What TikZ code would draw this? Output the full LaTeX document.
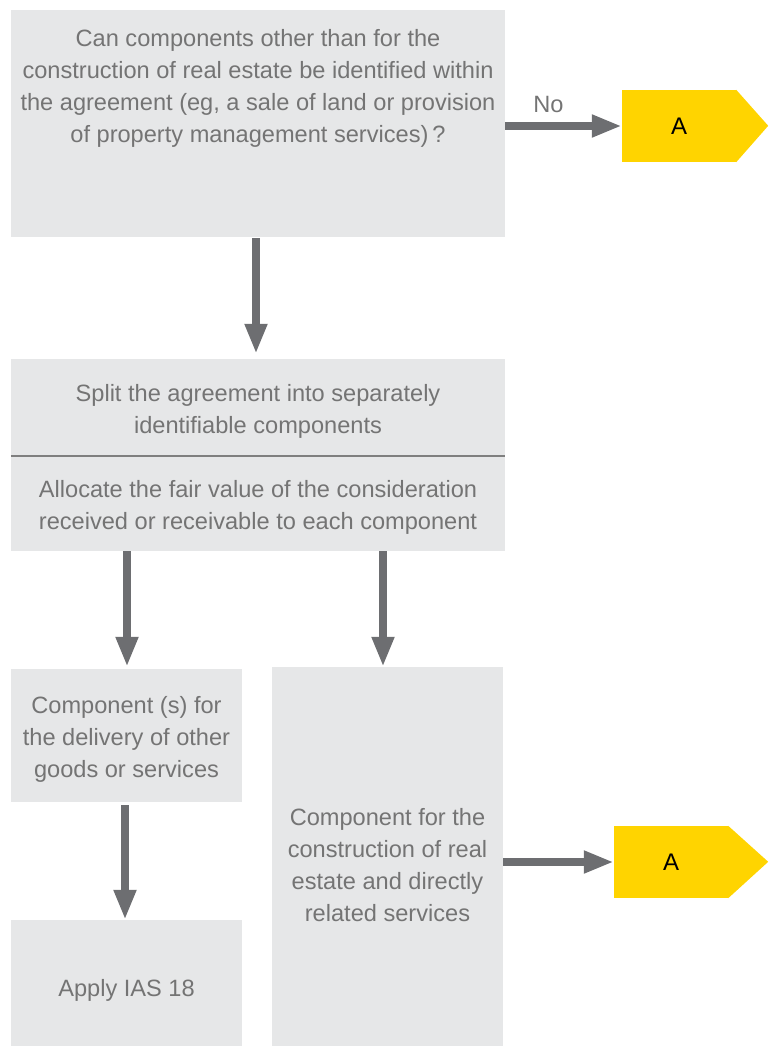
\documentclass[tikz,border=0pt]{standalone}
\usepackage{fontspec}
\setmainfont{Liberation Sans}
\usetikzlibrary{arrows.meta}
\definecolor{boxgray}{HTML}{E6E7E8}
\definecolor{txtgray}{HTML}{747474}
\definecolor{arrgray}{HTML}{6D6E71}
\definecolor{divgray}{HTML}{7F7F7F}
\definecolor{eyyellow}{HTML}{FFD400}
\begin{document}
\begin{tikzpicture}[x=1pt,y=-1pt,
  box/.style={fill=boxgray, draw=none, inner sep=0pt},
  txt/.style={text=txtgray, align=center, font=\fontsize{23.6}{32}\selectfont, inner sep=0pt},
  arr/.style={draw=arrgray, line width=8pt, -{Triangle[width=21pt,length=30pt]}},
  ybox/.style={fill=eyyellow, inner sep=0pt, minimum width=114pt, minimum height=72pt, font=\fontsize{24}{28}\selectfont, text=black}]
\useasboundingbox (0,0) rectangle (768,1046);
% boxes
\node[box, minimum width=494pt, minimum height=227pt] (q) at (258,123.5) {};
\node[txt] (qt) at (258,88.5) {Can components other than for the\\construction of real estate be identified within\\the agreement (eg, a sale of land or provision\\of property management services)\,?};
\node[box, minimum width=494pt, minimum height=192pt] (split) at (258,455) {};
\draw[line width=1.5pt, draw=divgray] ([yshift=-1pt]split.west) -- ([yshift=-1pt]split.east);
\node[txt] (st1) at (258,411.5) {Split the agreement into separately\\identifiable components};
\node[txt] (st2) at (258,507.5) {Allocate the fair value of the consideration\\received or receivable to each component};
\node[box, minimum width=231pt, minimum height=133pt] (other) at (126.5,735.5) {};
\node[txt] (ot) at (126.5,739.5) {Component (s) for\\the delivery of other\\goods or services};
\node[box, minimum width=231pt, minimum height=126pt] (ias) at (126.5,983) {};
\node[txt] (it) at (126.5,990.5) {Apply IAS 18};
\node[box, minimum width=231pt, minimum height=379pt] (cons) at (387.5,856.5) {};
\node[txt] (ct) at (387.5,865.5) {Component for the\\construction of real\\estate and directly\\related services};
% yellow A markers
\node[ybox] (A1) at (679,126) {A};
\fill[eyyellow] (A1.north east) -- ++(32,36) -- (A1.south east) -- cycle;
\node[ybox] (A2) at (671,862) {A};
\fill[eyyellow] (A2.north east) -- ++(40,36) -- (A2.south east) -- cycle;
% connectors
\coordinate (c1) at ([xshift=-2pt]q.south);
\draw[arr] ([yshift=-1pt]c1) -- ([yshift=5pt]c1 |- split.north);
\draw[arr] (q.east |- A1.west) -- node[txt, pos=0.37, yshift=22pt] {No} (A1.west);
\coordinate (c3) at ([xshift=0.5pt]other.north);
\draw[arr] (c3 |- split.south) -- ([yshift=2pt]c3);
\coordinate (c5) at ([xshift=-4.5pt]cons.north);
\draw[arr] (c5 |- split.south) -- (c5);
\coordinate (c3b) at ([xshift=-1.5pt]other.south);
\draw[arr] ([yshift=-3pt]c3b) -- (c3b |- ias.north);
\draw[arr] (cons.east |- A2.west) -- (A2.west);
\end{tikzpicture}
\end{document}
